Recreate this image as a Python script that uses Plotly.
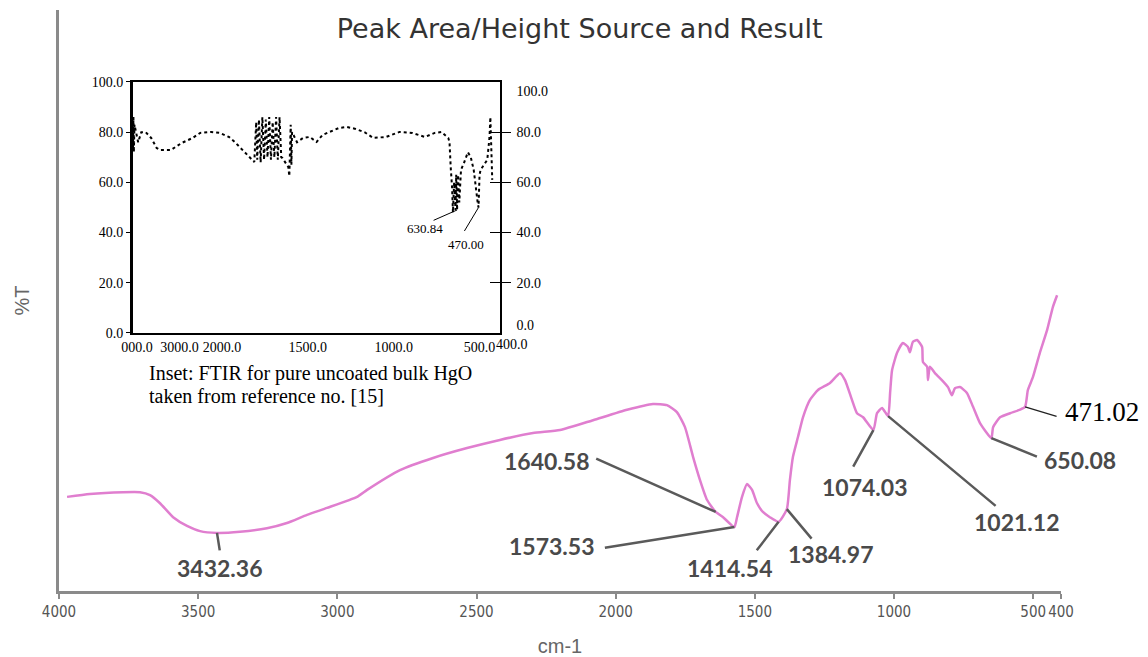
import plotly.graph_objects as go

# ---------------- main spectrum (wavenumber in cm-1, %T) ----------------
wavenumber = [3971, 3889, 3770, 3709, 3673, 3637, 3590, 3540, 3493, 3432.36,
              3350, 3253, 3181, 3109, 3037, 2929, 2893, 2775, 2656, 2534,
              2416, 2297, 2200, 2081, 1959, 1866, 1816, 1780, 1751, 1722,
              1697, 1672, 1640.58, 1614, 1573.53, 1564, 1546, 1528, 1510, 1492,
              1471, 1446, 1414.54, 1384.97, 1374, 1363, 1345, 1327, 1302, 1273,
              1230, 1194, 1176, 1151, 1133, 1111, 1074.03, 1061, 1043, 1021.12,
              1014, 1007, 989, 968, 950, 943, 932, 917, 899, 896,
              881, 878, 871, 853, 828, 806, 792, 781, 763, 738,
              716, 691, 650.08, 644, 619, 583, 547, 529, 519, 501,
              476, 450, 429, 414]
transmittance = [16.2, 16.7, 17.0, 17.0, 16.5, 15.1, 12.7, 11.2, 10.3, 10.0,
                 10.2, 10.8, 11.7, 13.1, 14.3, 16.2, 17.4, 20.8, 22.9, 24.6,
                 26.0, 27.2, 27.7, 29.4, 31.2, 32.2, 32.0, 30.8, 28.2, 23.1,
                 19.1, 15.7, 13.6, 12.7, 11.0, 12.7, 16.2, 18.4, 17.4, 15.1,
                 13.6, 12.7, 11.9, 14.1, 19.1, 23.1, 26.5, 29.9, 32.9, 34.6,
                 35.8, 37.5, 36.3, 32.9, 30.6, 29.9, 27.7, 30.6, 31.5, 30.1,
                 34.1, 38.0, 41.0, 42.7, 42.0, 41.1, 42.9, 43.2, 42.0, 39.4,
                 38.6, 36.3, 38.6, 37.5, 36.3, 35.1, 33.7, 34.9, 35.1, 34.1,
                 31.7, 28.9, 26.3, 28.2, 29.9, 30.6, 31.2, 31.7, 34.6, 36.8,
                 41.0, 44.9, 48.9, 50.9]

x_tick_values = [4000, 3500, 3000, 2500, 2000, 1500, 1000, 500, 400]
x_tick_labels = ["4000", "3500", "3000", "2500", "2000", "1500", "1000", "500", "400"]

# labelled peaks
peak_labels = ["3432.36", "1640.58", "1573.53", "1414.54", "1384.97",
               "1074.03", "1021.12", "650.08", "471.02"]
peak_wn = [3432.36, 1640.58, 1573.53, 1414.54, 1384.97, 1074.03, 1021.12, 650.08, 529]
peak_T = [10.0, 13.6, 11.0, 11.9, 14.1, 27.7, 30.1, 26.3, 31.7]

# ---------------- inset spectrum (pure bulk HgO) ----------------
inset_wn = [4095, 4085, 4075, 4060, 3974, 3900, 3795, 3667, 3538, 3462,
            3205, 2949, 2692, 2513, 2256, 2051, 1960, 1926, 1869, 1812,
            1801, 1795, 1785, 1775, 1765, 1755, 1745, 1735, 1725, 1715,
            1705, 1695, 1685, 1675, 1665, 1655, 1648, 1614, 1608, 1600,
            1596, 1592, 1563, 1528, 1489, 1449, 1415, 1375, 1318, 1273,
            1222, 1170, 1119, 1045, 966, 892, 818, 761, 722, 682,
            675, 668, 660, 655, 648, 640, 636, 630.84, 625, 618,
            608, 591, 568, 551, 534, 511, 506, 500, 494, 455,
            442, 437, 432, 426]
inset_T = [74, 86, 72, 83, 76, 80, 80, 77.7, 73.7, 72.9,
           72.9, 75.7, 77.7, 79.7, 80.1, 79.7, 78.1, 76.1, 72.1, 68.1,
           84, 69, 85, 68, 86, 69, 85, 70, 86, 69,
           84, 70, 86, 69, 86, 70, 69.7, 66.1, 62.5, 83,
           67, 80, 76, 77.7, 78.1, 76.1, 78.9, 80.1, 81.7, 82.1,
           81.3, 80, 77.7, 78.1, 80.1, 79.7, 78.1, 79.7, 80.1, 77.7,
           76, 66, 58, 48, 60, 49, 63, 49, 63, 52,
           65, 67.7, 72, 70, 65, 52, 50, 63, 65, 69,
           78, 86, 75, 61]

inset_tick_wn = [4000, 3000, 2000, 1500, 1000, 500]
inset_tick_labels = ["000.0", "3000.0", "2000.0", "1500.0", "1000.0", "500.0"]
inset_end_label = "400.0"
inset_y_ticks = [0, 20, 40, 60, 80, 100]
inset_y_labels = ["0.0", "20.0", "40.0", "60.0", "80.0", "100.0"]
# right-hand labels: the end labels sit just inside the frame
inset_right_label_pos = [3.2, 20, 40, 60, 80, 96.4]
inset_right_ticks = [20, 40, 60, 80]
inset_peak_labels = ["630.84", "470.00"]
inset_peak_wn = [630.84, 506]
inset_peak_T = [49, 50]


def inset_scale(w):
    # the inset's wavenumber axis is compressed above 2000 cm-1
    return w if w <= 2000 else 2000 + (w - 2000) * 0.2475


PINK = "#E07ECF"
AXIS_GRAY = "#8a8a8a"
LABEL_GRAY = "#4a4a4a"
SERIF = "Liberation Serif, Times New Roman, serif"

fig = go.Figure()
fig.add_trace(go.Scatter(x=wavenumber, y=transmittance, mode="lines",
                         line=dict(color=PINK, width=2.5, shape="spline", smoothing=0.5),
                         hoverinfo="x+y", showlegend=False))
fig.add_trace(go.Scatter(x=[inset_scale(w) for w in inset_wn], y=inset_T,
                         mode="lines", line=dict(color="black", width=2, dash="dot"),
                         xaxis="x2", yaxis="y2", showlegend=False))
# empty traces so the inset's right-hand axes are drawn
for ax_name in ["y3", "y4", "y5"]:
    fig.add_trace(go.Scatter(x=[], y=[], xaxis="x2", yaxis=ax_name, showlegend=False))

annotations = []
# leader offsets (tail) and text offsets in pixels relative to the peak point
leader_off = [(3, 19), (-121, -54), (-131, 21), (-23, 30), (26, 31),
              (-21, 38), (109, 91), (47, 19), (33, 10)]
text_off = [(3, 35), (-169, -51), (-182, 19), (-49, 46), (44, 45),
            (-8, 57), (129, 106), (89, 22), (77, 5)]
for i, lab in enumerate(peak_labels):
    serif = lab == "471.02"
    annotations.append(dict(
        x=peak_wn[i], y=peak_T[i], xref="x", yref="y", text="", showarrow=True,
        arrowhead=0, arrowwidth=1.3 if serif else 2.5,
        arrowcolor="#222" if serif else "#5a5a5a",
        ax=leader_off[i][0], ay=leader_off[i][1], standoff=0, startstandoff=0))
    annotations.append(dict(
        x=peak_wn[i], y=peak_T[i], xref="x", yref="y", text=lab, showarrow=False,
        xshift=text_off[i][0], yshift=-text_off[i][1],
        font=dict(family=SERIF if serif else "Lato, Carlito, sans-serif",
                  size=27 if serif else 23,
                  weight="normal" if serif else "bold",
                  color="black" if serif else LABEL_GRAY)))

inset_leader = [(-25, 11), (-15, 25)]
inset_text = [(-32, 19), (-13, 37)]
for i, lab in enumerate(inset_peak_labels):
    annotations.append(dict(
        x=inset_scale(inset_peak_wn[i]), y=inset_peak_T[i], xref="x2", yref="y2",
        text="", showarrow=True, arrowhead=0, arrowwidth=1, arrowcolor="black",
        ax=inset_leader[i][0], ay=inset_leader[i][1], standoff=0, startstandoff=0))
    annotations.append(dict(
        x=inset_scale(inset_peak_wn[i]), y=inset_peak_T[i], xref="x2", yref="y2",
        text=lab, showarrow=False, xshift=inset_text[i][0], yshift=-inset_text[i][1],
        font=dict(family=SERIF, size=13, color="black")))

# last tick label of the inset's x axis, which sits just past its right edge
annotations.append(dict(x=1, y=0, xref="x2 domain", yref="y2 domain", xanchor="left",
                        yanchor="top", xshift=-6, yshift=-2, showarrow=False,
                        text=inset_end_label,
                        font=dict(family=SERIF, size=14, color="black")))

# inset caption
annotations.append(dict(x=0.0878, y=0.3752, xref="paper", yref="paper", xanchor="left",
                        yanchor="middle", showarrow=False,
                        text="Inset: FTIR for pure uncoated bulk HgO",
                        font=dict(family=SERIF, size=20, color="black")))
annotations.append(dict(x=0.0878, y=0.3356, xref="paper", yref="paper", xanchor="left",
                        yanchor="middle", showarrow=False,
                        text="taken from reference no. [15]",
                        font=dict(family=SERIF, size=20, color="black")))

lo, hi = inset_scale(4101), inset_scale(381)
inset_tick_u = [inset_scale(w) for w in inset_tick_wn]

fig.update_layout(
    width=1148, height=657,
    margin=dict(l=59, r=87, t=10, b=66, autoexpand=False),
    paper_bgcolor="white", plot_bgcolor="white",
    title=dict(text="Peak Area/Height Source and Result", x=0.505, y=0.957,
               xanchor="center", yanchor="middle", xref="container", yref="container",
               font=dict(family="DejaVu Sans, Liberation Sans, sans-serif", size=27,
                         color="#333333")),
    xaxis=dict(range=[4000, 400], showline=True, linecolor=AXIS_GRAY, linewidth=3,
               ticks="outside", ticklen=5, tickcolor=AXIS_GRAY, tickwidth=1.5,
               tickvals=x_tick_values, ticktext=x_tick_labels, showgrid=False, zeroline=False,
               tickangle=0, automargin=False,
               tickfont=dict(family="Liberation Sans Narrow, DejaVu Sans Condensed, Arial",
                             size=15, color="#555"),
               title=dict(text="cm-1", standoff=19,
                          font=dict(family="Liberation Sans, Arial", size=20, color="#666"))),
    yaxis=dict(range=[0, 100], showline=True, linecolor=AXIS_GRAY, linewidth=3,
               showticklabels=False, ticks="", showgrid=False, zeroline=False,
               automargin=False,
               title=dict(text="%T", standoff=22,
                          font=dict(family="Liberation Sans, Arial", size=20, color="#666"))),
    xaxis2=dict(domain=[0.0736, 0.4401], anchor="y2", range=[lo, hi],
                showline=True, mirror=True, linecolor="black", linewidth=1.5,
                ticks="", tickvals=inset_tick_u, ticktext=inset_tick_labels, tickangle=0,
                showgrid=False, zeroline=False, automargin=False,
                tickfont=dict(family=SERIF, size=14, color="black")),
    yaxis2=dict(domain=[0.4441, 0.8761], anchor="x2", range=[0, 100],
                showline=True, linecolor="black", linewidth=2.5,
                ticks="outside", ticklen=4, tickcolor="black",
                tickvals=inset_y_ticks, ticktext=inset_y_labels,
                showgrid=False, zeroline=False, automargin=False,
                tickfont=dict(family=SERIF, size=14, color="black")),
    yaxis3=dict(overlaying="y2", anchor="x2", side="right", range=[0, 100],
                showline=True, linecolor="black", linewidth=1.5,
                ticks="", ticklabelstandoff=12,
                tickvals=inset_right_label_pos, ticktext=inset_y_labels,
                showgrid=False, zeroline=False, automargin=False,
                tickfont=dict(family=SERIF, size=14, color="black")),
    yaxis4=dict(overlaying="y2", anchor="x2", side="right", range=[0, 100],
                showline=False, ticks="inside", ticklen=10, tickcolor="black",
                tickvals=inset_right_ticks, showticklabels=False,
                showgrid=False, zeroline=False, automargin=False),
    yaxis5=dict(overlaying="y2", anchor="x2", side="right", range=[0, 100],
                showline=False, ticks="outside", ticklen=10, tickcolor="black",
                tickvals=inset_right_ticks, showticklabels=False,
                showgrid=False, zeroline=False, automargin=False),
    annotations=annotations,
)

fig.write_html("out.html")
